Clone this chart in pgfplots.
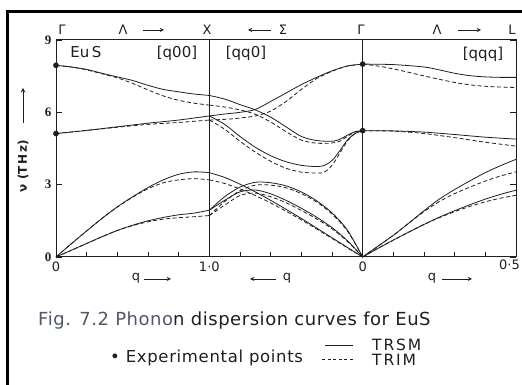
\documentclass[border=0pt]{standalone}
\usepackage{pgfplots}
\pgfplotsset{compat=1.18}
\usepackage{fontspec}
\setmainfont{DejaVu Sans}
\newfontfamily\serifb{Liberation Serif}
\definecolor{ink}{RGB}{30,30,35}
\definecolor{inkl}{RGB}{80,88,105}
\begin{document}
\begin{tikzpicture}
\useasboundingbox (0pt,0pt) rectangle (522pt,385pt);
\pgfplotsset{
  sol/.style={ink, line width=0.8pt, smooth, tension=0.5, no markers},
  das/.style={ink, line width=0.8pt, dash pattern=on 4pt off 2.5pt, smooth, tension=0.5, no markers}
}
\begin{axis}[
  at={(56pt,128pt)}, anchor=south west, scale only axis,
  width=460pt, height=217pt,
  xmin=0, xmax=3, ymin=0, ymax=9,
  clip=false,
  axis line style={ink, line width=1pt},
  xtick={0,1,2,3}, xticklabels={0,1·0,0,{}},
  minor xtick={0.2,0.4,0.6,0.8,1.2,1.4,1.6,1.8,2.2,2.4,2.6,2.8},
  ytick={0,3,6,9},
  tick align=inside,
  xtick pos=bottom, ytick pos=both, yticklabel pos=left,
  major tick length=6pt, minor tick length=5pt,
  xmajorgrids, major x grid style={ink, line width=1pt},
  tick style={ink, line width=0.8pt},
  /pgf/number format/assume math mode=true,
  yticklabel style={font=\serifb\bfseries\fontsize{13}{13}\selectfont, text=ink, xshift=-1pt},
  xticklabel style={font=\fontsize{13}{13}\selectfont, text=ink, yshift=-1pt},
]
% ---- segment Gamma - X  [q00]
\addplot[sol] coordinates {(0,7.95)(0.1,7.88)(0.2,7.78)(0.3,7.62)(0.4,7.47)(0.5,7.32)(0.6,7.12)(0.7,6.95)(0.8,6.85)(0.9,6.76)(1.0,6.7)};
\addplot[das] coordinates {(0,7.95)(0.1,7.88)(0.2,7.76)(0.3,7.6)(0.4,7.43)(0.5,7.2)(0.6,6.93)(0.7,6.68)(0.8,6.5)(0.9,6.38)(1.0,6.3)};
\addplot[sol] coordinates {(0,5.12)(0.2,5.25)(0.4,5.4)(0.6,5.55)(0.8,5.68)(1.0,5.85)};
\addplot[das] coordinates {(0,5.12)(0.2,5.25)(0.4,5.38)(0.6,5.5)(0.8,5.58)(1.0,5.68)};
\addplot[sol] coordinates {(0,0)(0.1,0.55)(0.2,1.08)(0.3,1.6)(0.4,2.08)(0.5,2.5)(0.6,2.88)(0.7,3.2)(0.8,3.43)(0.9,3.53)(1.0,3.5)};
\addplot[das] coordinates {(0,0)(0.1,0.55)(0.2,1.08)(0.3,1.6)(0.4,2.07)(0.5,2.48)(0.6,2.83)(0.7,3.08)(0.8,3.2)(0.9,3.25)(1.0,3.2)};
\addplot[sol] coordinates {(0,0)(0.1,0.28)(0.2,0.56)(0.3,0.84)(0.4,1.1)(0.5,1.32)(0.6,1.5)(0.7,1.64)(0.8,1.75)(0.9,1.82)(1.0,1.94)};
\addplot[das] coordinates {(0,0)(0.1,0.28)(0.2,0.56)(0.3,0.84)(0.4,1.1)(0.5,1.3)(0.6,1.46)(0.7,1.57)(0.8,1.63)(0.9,1.67)(1.0,1.72)};
% ---- segment X - Gamma  [qq0]
\addplot[sol] coordinates {(1.0,6.7)(1.1,6.55)(1.2,6.32)(1.3,6.1)(1.4,5.8)(1.5,5.4)(1.6,5.0)(1.7,4.83)(1.8,4.8)(1.85,4.88)(1.9,5.05)(1.95,5.2)(2.0,5.24)};
\addplot[das] coordinates {(1.0,6.3)(1.1,6.22)(1.2,6.1)(1.3,5.92)(1.4,5.6)(1.5,5.2)(1.6,4.85)(1.7,4.72)(1.8,4.73)(1.85,4.8)(1.9,5.0)(1.95,5.18)(2.0,5.24)};
\addplot[sol] coordinates {(1.0,5.85)(1.1,5.5)(1.2,5.0)(1.3,4.55)(1.4,4.2)(1.5,3.95)(1.6,3.8)(1.7,3.75)(1.75,3.8)(1.8,4.0)(1.85,4.4)(1.9,4.85)(1.95,5.12)(2.0,5.24)};
\addplot[das] coordinates {(1.0,5.68)(1.1,5.3)(1.2,4.8)(1.3,4.35)(1.4,3.97)(1.5,3.68)(1.6,3.52)(1.7,3.48)(1.75,3.52)(1.8,3.8)(1.85,4.3)(1.9,4.8)(1.95,5.12)(2.0,5.24)};
\addplot[sol] coordinates {(1.0,5.85)(1.1,5.93)(1.2,6.0)(1.3,6.12)(1.4,6.45)(1.5,6.8)(1.6,7.15)(1.7,7.45)(1.8,7.72)(1.9,7.92)(2.0,8.0)};
\addplot[das] coordinates {(1.0,5.68)(1.15,5.73)(1.3,5.85)(1.4,6.05)(1.5,6.45)(1.6,6.95)(1.7,7.4)(1.8,7.7)(1.9,7.92)(2.0,8.0)};
\addplot[sol] coordinates {(1.0,1.94)(1.1,2.5)(1.2,2.9)(1.3,3.1)(1.4,3.08)(1.5,2.95)(1.6,2.7)(1.7,2.33)(1.8,1.83)(1.9,1.12)(2.0,0)};
\addplot[das] coordinates {(1.0,1.72)(1.1,2.3)(1.2,2.75)(1.3,2.98)(1.4,2.98)(1.5,2.87)(1.6,2.63)(1.7,2.28)(1.8,1.78)(1.9,1.08)(2.0,0)};
\addplot[sol] coordinates {(1.0,1.94)(1.1,2.35)(1.2,2.7)(1.3,2.78)(1.4,2.62)(1.5,2.35)(1.6,2.02)(1.7,1.65)(1.8,1.22)(1.9,0.68)(2.0,0)};
\addplot[das] coordinates {(1.0,1.72)(1.1,2.15)(1.2,2.55)(1.3,2.65)(1.4,2.5)(1.5,2.25)(1.6,1.93)(1.7,1.58)(1.8,1.17)(1.9,0.65)(2.0,0)};
\addplot[sol] coordinates {(1.0,3.5)(1.1,3.3)(1.2,3.02)(1.3,2.7)(1.4,2.35)(1.5,1.98)(1.6,1.6)(1.7,1.2)(1.8,0.8)(1.9,0.4)(2.0,0)};
\addplot[das] coordinates {(1.0,3.2)(1.1,3.05)(1.2,2.82)(1.3,2.55)(1.4,2.24)(1.5,1.9)(1.6,1.54)(1.7,1.16)(1.8,0.77)(1.9,0.38)(2.0,0)};
% ---- segment Gamma - L  [qqq]
\addplot[sol] coordinates {(2.0,8.0)(2.2,7.98)(2.4,7.88)(2.5,7.76)(2.6,7.62)(2.7,7.52)(2.8,7.47)(2.9,7.45)(3.0,7.45)};
\addplot[das] coordinates {(2.0,8.0)(2.1,7.92)(2.2,7.8)(2.3,7.66)(2.4,7.51)(2.5,7.37)(2.6,7.24)(2.7,7.14)(2.8,7.08)(2.9,7.05)(3.0,7.03)};
\addplot[sol] coordinates {(2.0,5.24)(2.2,5.23)(2.4,5.18)(2.6,5.08)(2.8,4.97)(3.0,4.89)};
\addplot[das] coordinates {(2.0,5.24)(2.2,5.22)(2.4,5.12)(2.6,4.95)(2.8,4.76)(3.0,4.6)};
\addplot[sol] coordinates {(2,0)(2.1,0.45)(2.2,0.9)(2.3,1.4)(2.4,1.92)(2.5,2.4)(2.6,2.8)(2.7,3.16)(2.8,3.5)(2.9,3.79)(3.0,4.05)};
\addplot[das] coordinates {(2,0)(2.1,0.45)(2.2,0.9)(2.3,1.4)(2.4,1.88)(2.5,2.3)(2.6,2.63)(2.7,2.9)(2.8,3.15)(2.9,3.36)(3.0,3.53)};
\addplot[sol] coordinates {(2,0)(2.1,0.36)(2.2,0.7)(2.3,1.03)(2.4,1.35)(2.5,1.65)(2.6,1.92)(2.7,2.17)(2.8,2.4)(2.9,2.6)(3.0,2.77)};
\addplot[das] coordinates {(2,0)(2.1,0.36)(2.2,0.7)(2.3,1.03)(2.4,1.35)(2.5,1.63)(2.6,1.88)(2.7,2.1)(2.8,2.29)(2.9,2.44)(3.0,2.56)};
% experimental points
\addplot[only marks, mark=*, mark size=2.6pt, ink] coordinates {(0,7.95)(0,5.12)(2,8.0)(2,5.24)};
\end{axis}
% scan frame
\draw[black, line width=2.5pt] (7.5pt,0pt) -- (7.5pt,373.5pt) -- (522pt,373.5pt);
% last bottom tick label
\node[anchor=east, font=\fontsize{13}{13}\selectfont, text=ink, inner sep=0pt] at (520pt,120pt) {0·5};
% top symmetry labels
\begin{scope}[every node/.style={font=\fontsize{13}{13}\selectfont, text=ink, inner sep=0pt}]
\node at (62pt,355pt) {Γ};
\node at (123pt,355pt) {Λ};
\draw[-stealth, ink, line width=0.9pt] (143pt,355pt) -- (164pt,355pt);
\node at (207pt,355pt) {X};
\draw[-stealth, ink, line width=0.9pt] (271pt,355pt) -- (248pt,355pt);
\node at (283pt,355pt) {Σ};
\node at (361pt,355pt) {Γ};
\node at (437pt,355pt) {Λ};
\draw[-stealth, ink, line width=0.9pt] (458pt,355pt) -- (481pt,355pt);
\node at (512pt,355pt) {L};
% bottom q labels
\node at (136pt,107pt) {q};
\draw[-stealth, ink, line width=0.9pt] (144pt,106pt) -- (171pt,106pt);
\draw[-stealth, ink, line width=0.9pt] (276pt,106pt) -- (250pt,106pt);
\node at (287pt,107pt) {q};
\node at (432pt,107pt) {q};
\draw[-stealth, ink, line width=0.9pt] (442pt,106pt) -- (472pt,106pt);
\end{scope}
% inside labels
\begin{scope}[every node/.style={font=\fontsize{15}{15}\selectfont, text=ink, inner sep=0pt}]
\node at (86pt,333pt) {Eu\,S};
\node at (177pt,332pt) {[q00]};
\node at (246pt,332pt) {[qq0]};
\node at (483pt,331pt) {[qqq]};
\end{scope}
% y label
\node[rotate=90, font=\bfseries\fontsize{12}{12}\selectfont, text=ink, inner sep=0pt] at (23pt,219pt) {ν (T\,H\,z)};
\draw[-stealth, ink, line width=1pt] (23pt,262pt) -- (23pt,297pt);
% caption
\node[anchor=base west, font=\fontsize{18}{18}\selectfont\addfontfeatures{LetterSpace=3}, text=ink, inner sep=0pt] at (38pt,59pt) {\textcolor{inkl}{Fig. 7.2 Phono}n dispersion curves for EuS};
\node[anchor=base west, font=\fontsize{16.5}{16.5}\selectfont\addfontfeatures{LetterSpace=4}, text=ink, inner sep=0pt] at (110pt,22pt) {• Experimental points};
\draw[ink, line width=0.9pt] (325pt,40pt) -- (353pt,40pt);
\draw[ink, line width=0.9pt, dash pattern=on 3pt off 2.5pt] (322pt,26pt) -- (353pt,26pt);
\node[anchor=base west, font=\fontsize{15.5}{15.5}\selectfont\addfontfeatures{LetterSpace=12}, text=ink, inner sep=0pt] at (372pt,34pt) {TRSM};
\node[anchor=base west, font=\fontsize{15.5}{15.5}\selectfont\addfontfeatures{LetterSpace=12}, text=ink, inner sep=0pt] at (372pt,19pt) {TRIM};
\end{tikzpicture}
\end{document}
